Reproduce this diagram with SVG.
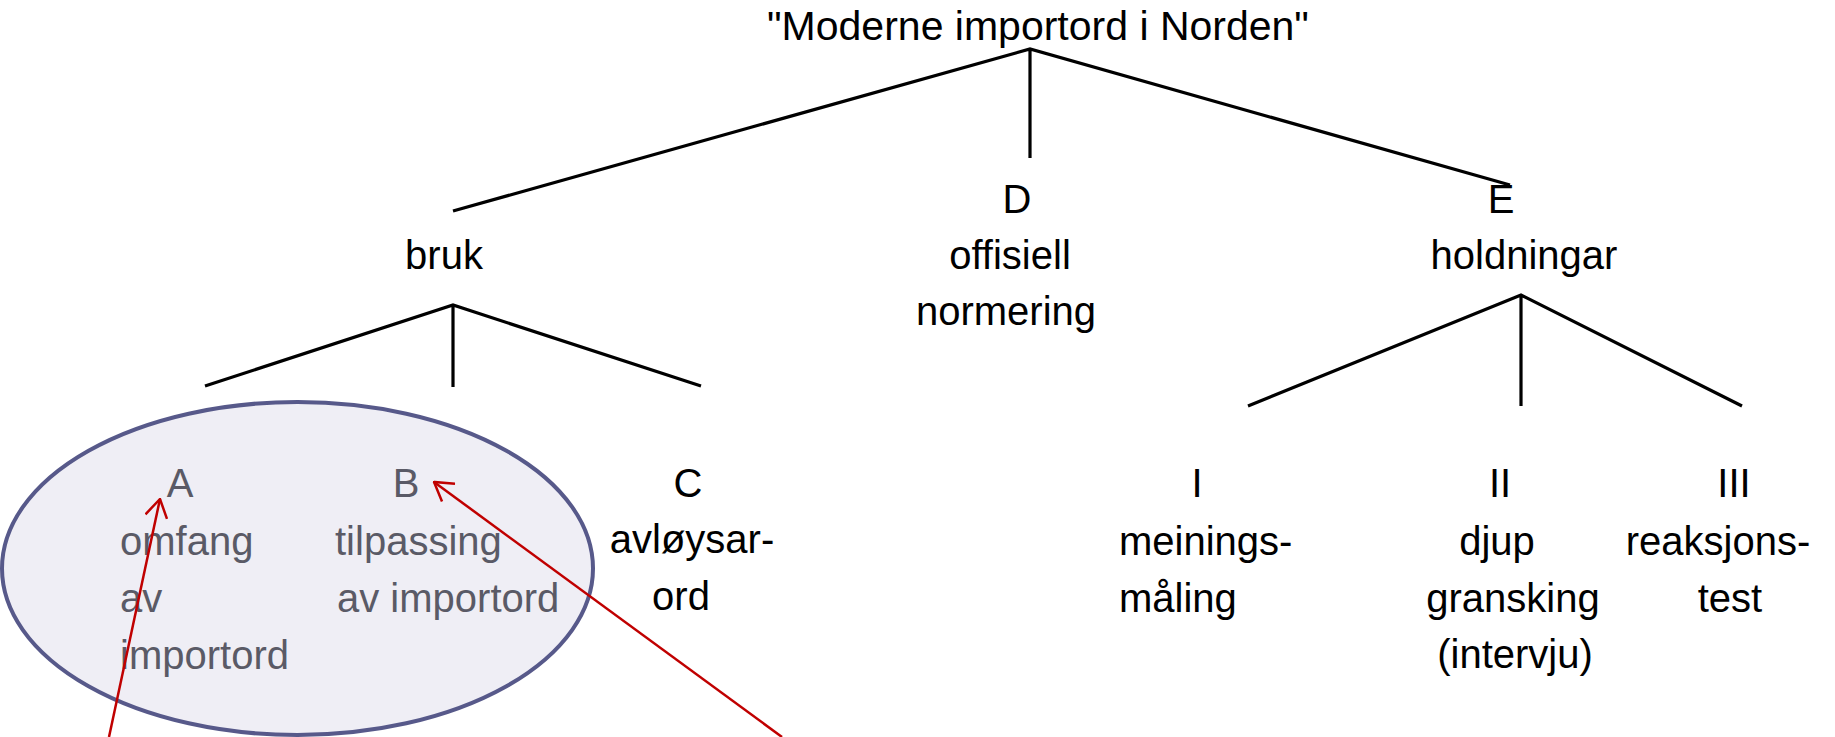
<svg xmlns="http://www.w3.org/2000/svg" width="1835" height="737" viewBox="0 0 1835 737">
<style>
text{font-family:"Liberation Sans",Arial,sans-serif;font-size:40px;fill:#000}
.grey text{fill:#5a5a66}
.c{text-anchor:middle}
.tree{stroke:#000;stroke-width:3.2;fill:none}
.red{stroke:#c00000;stroke-width:2.5;fill:none}
</style>
<defs>
<marker id="ah" viewBox="0 0 20 24" refX="19" refY="12" markerWidth="20" markerHeight="24" markerUnits="userSpaceOnUse" orient="auto">
<path d="M1,1 L19,12 L1,23" fill="none" stroke="#c00000" stroke-width="2.5"/>
</marker>
</defs>
<rect width="1835" height="737" fill="#fff"/>
<g id="group-ab">
<ellipse cx="297.5" cy="568.5" rx="295.5" ry="166.5" fill="#efeef5" stroke="#57598a" stroke-width="4"/>
</g>
<g id="connectors">
<path class="tree" d="M453,211 L1030,49 L1510,185 M1030,49 L1030,158"/>
<path class="tree" d="M205,386 L453,305 L701,386 M453,305 L453,387"/>
<path class="tree" d="M1248,406 L1521,295 L1742,406 M1521,295 L1521,406"/>
</g>
<g id="title"><text class="c" x="1038" y="40" style="font-size:41px">"Moderne importord i Norden"</text></g>
<g id="bruk"><text class="c" x="444" y="269">bruk</text></g>
<g id="D"><text class="c" x="1017" y="213">D</text><text class="c" x="1010" y="269">offisiell</text><text class="c" x="1006" y="325">normering</text></g>
<g id="E"><text class="c" x="1501" y="213">E</text><text class="c" x="1524" y="269">holdningar</text></g>
<g id="A" class="grey"><text class="c" x="180" y="497">A</text><text x="120" y="555">omfang</text><text x="120" y="612">av</text><text x="120" y="669">importord</text></g>
<g id="B" class="grey"><text class="c" x="406" y="497">B</text><text x="335" y="555">tilpassing</text><text x="337" y="612">av importord</text></g>
<g id="C"><text class="c" x="688" y="497">C</text><text class="c" x="692" y="553">avløysar-</text><text class="c" x="681" y="610">ord</text></g>
<g id="I"><text class="c" x="1197" y="497">I</text><text x="1119" y="555">meinings-</text><text x="1119" y="612">måling</text></g>
<g id="II"><text class="c" x="1500" y="497">II</text><text class="c" x="1497" y="555">djup</text><text class="c" x="1513" y="612">gransking</text><text class="c" x="1515" y="668">(intervju)</text></g>
<g id="III"><text class="c" x="1734" y="497">III</text><text class="c" x="1718" y="555">reaksjons-</text><text class="c" x="1730" y="612">test</text></g>
<g id="arrows">
<path class="red" d="M109,737 L160,499" marker-end="url(#ah)"/>
<path class="red" d="M782,737 L434,482" marker-end="url(#ah)"/>
</g>
</svg>
